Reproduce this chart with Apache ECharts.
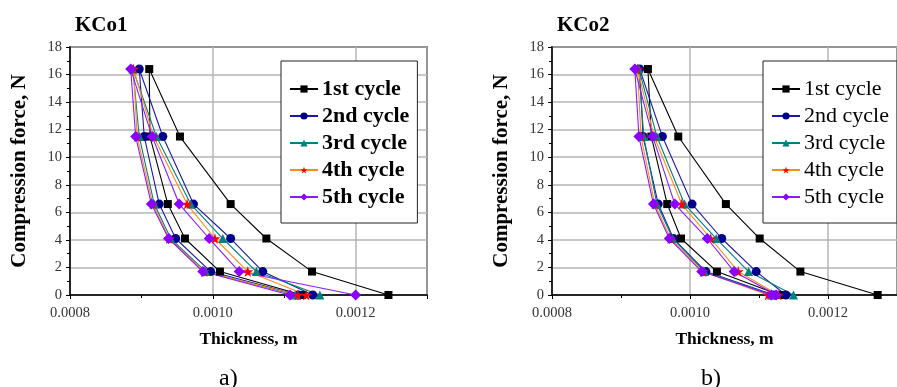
<!DOCTYPE html>
<html>
<head>
<meta charset="utf-8">
<script src="https://cdn.jsdelivr.net/npm/echarts@6/dist/echarts.min.js"></script>
<style>
  html, body { margin: 0; padding: 0; background: #fff; }
  #chart { width: 897px; height: 387px; }
</style>
</head>
<body>
<div id="chart"></div>
<script>
// force path of one loop: loading up to 16.4 N, then unloading back to 0
const forces = [0, 1.7, 4.1, 6.6, 11.5, 16.4, 11.5, 6.6, 4.1, 1.7, 0];
const cycleNames = ["1st cycle", "2nd cycle", "3rd cycle", "4th cycle", "5th cycle"];

// KCo1 thickness (m) along the loop
const kco1Cycle1 = [0.001246, 0.001139, 0.001075, 0.001025, 0.000954, 0.000911, 0.000912, 0.000937, 0.000961, 0.001010, 0.001125];
const kco1Cycle2 = [0.001140, 0.001070, 0.001025, 0.000973, 0.000930, 0.000897, 0.000904, 0.000925, 0.000948, 0.000997, 0.001120];
const kco1Cycle3 = [0.001150, 0.001061, 0.001014, 0.000969, 0.000921, 0.000888, 0.000897, 0.000918, 0.000941, 0.000990, 0.001115];
const kco1Cycle4 = [0.001131, 0.001049, 0.001003, 0.000964, 0.000917, 0.000889, 0.000894, 0.000916, 0.000939, 0.000988, 0.001119];
const kco1Cycle5 = [0.001200, 0.001037, 0.000995, 0.000953, 0.000915, 0.000885, 0.000892, 0.000914, 0.000938, 0.000986, 0.001108];

// KCo2 thickness (m) along the loop
const kco2Cycle1 = [0.001272, 0.001160, 0.001101, 0.001052, 0.000983, 0.000939, 0.000944, 0.000967, 0.000987, 0.001039, 0.001130];
const kco2Cycle2 = [0.001139, 0.001096, 0.001046, 0.001003, 0.000960, 0.000927, 0.000932, 0.000954, 0.000976, 0.001023, 0.001122];
const kco2Cycle3 = [0.001150, 0.001085, 0.001038, 0.000992, 0.000952, 0.000926, 0.000933, 0.000952, 0.000975, 0.001021, 0.001118];
const kco2Cycle4 = [0.001128, 0.001070, 0.001030, 0.000988, 0.000948, 0.000924, 0.000929, 0.000949, 0.000972, 0.001019, 0.001113];
const kco2Cycle5 = [0.001125, 0.001064, 0.001025, 0.000978, 0.000946, 0.000920, 0.000926, 0.000947, 0.000970, 0.001017, 0.001118];

const serif = "'Liberation Serif', 'Times New Roman', serif";
const gridGray = "#b4b4b4";
const star = "path://M50,0 L61,35 L98,35 L68,57 L79,91 L50,70 L21,91 L32,57 L2,35 L39,35 Z";

const cycleStyles = [
  { line: "#000000", mark: "#000000", symbol: "rect", size: 8 },
  { line: "#1a1aa6", mark: "#00008b", symbol: "circle", size: 9 },
  { line: "#008080", mark: "#008080", symbol: "triangle", size: 9 },
  { line: "#ff8c1a", mark: "#ff0000", symbol: star, size: 11 },
  { line: "#8a1aff", mark: "#8b00ff", symbol: "diamond", size: 11 }
];

const loops = (cycles, axis) => cycles.map((thick, i) => ({
  name: cycleNames[i],
  type: "line",
  xAxisIndex: axis,
  yAxisIndex: axis,
  data: thick.map((t, k) => [t, forces[k]]),
  symbol: cycleStyles[i].symbol,
  symbolSize: cycleStyles[i].size,
  lineStyle: { color: cycleStyles[i].line, width: 1.1 },
  itemStyle: { color: cycleStyles[i].mark },
  emphasis: { disabled: true },
  animation: false
}));

const xAxisFor = (grid) => ({
  gridIndex: grid,
  type: "value",
  min: 0.0008,
  max: 0.0013,
  interval: 0.0002,
  name: "Thickness, m",
  nameLocation: "middle",
  nameGap: 35,
  nameTextStyle: { fontFamily: serif, fontWeight: "bold", fontSize: 17.5, color: "#000" },
  axisLine: { onZero: false, lineStyle: { color: "#000", width: 1.5 } },
  axisTick: { length: 4, lineStyle: { color: "#000" } },
  minorTick: { show: true, splitNumber: 2, length: 3, lineStyle: { color: "#000" } },
  axisLabel: { showMaxLabel: false, margin: 11, fontFamily: serif, fontSize: 14.5, color: "#333", formatter: v => v.toFixed(4) },
  splitLine: { show: true, lineStyle: { color: gridGray, width: 1.5 } }
});

const yAxisFor = (grid) => ({
  gridIndex: grid,
  type: "value",
  min: 0,
  max: 18,
  interval: 2,
  name: "Compression force, N",
  nameLocation: "middle",
  nameGap: 40,
  nameTextStyle: { fontFamily: serif, fontWeight: "bold", fontSize: 21, color: "#000" },
  axisLine: { onZero: false, lineStyle: { color: "#000", width: 1.5 } },
  axisTick: { length: 4, lineStyle: { color: "#000" } },
  minorTick: { show: true, splitNumber: 2, length: 3, lineStyle: { color: "#000" } },
  axisLabel: { margin: 8, fontFamily: serif, fontSize: 14.5, color: "#333" },
  splitLine: { show: true, lineStyle: { color: gridGray, width: 1.5 } }
});

const legendFor = (left, bold) => ({
  orient: "vertical",
  left,
  top: 61,
  data: cycleNames,
  itemWidth: 28,
  itemHeight: 9,
  itemGap: 5,
  padding: [17, 8, 15, 8],
  backgroundColor: "#fff",
  borderColor: "#222",
  borderWidth: 1,
  selectedMode: false,
  textStyle: { fontFamily: serif, fontSize: 22, fontWeight: bold ? "bold" : "normal", color: "#000", padding: [0, 0, 0, -1] }
});

const titleText = (text, left, top, size, bold) => ({
  text, left, top,
  textStyle: { fontFamily: serif, fontSize: size, fontWeight: bold ? "bold" : "normal", color: "#000" }
});

const chart = echarts.init(document.getElementById("chart"), null, { renderer: "canvas" });
chart.setOption({
  animation: false,
  backgroundColor: "#fff",
  title: [
    titleText("KCo1", 70, 10, 21, true),
    titleText("KCo2", 552, 10, 21, true),
    titleText("a)", 214, 362, 24, false),
    titleText("b)", 696, 362, 24, false)
  ],
  grid: [
    { left: 70, top: 47, width: 357, height: 248, show: true, borderColor: "#000", borderWidth: 1.5 },
    { left: 552, top: 47, width: 357, height: 248, show: true, borderColor: "#000", borderWidth: 1.5 }
  ],
  xAxis: [xAxisFor(0), xAxisFor(1)],
  yAxis: [yAxisFor(0), yAxisFor(1)],
  legend: [legendFor(281, true), legendFor(763, false)],
  series: [
    ...loops([kco1Cycle1, kco1Cycle2, kco1Cycle3, kco1Cycle4, kco1Cycle5], 0),
    ...loops([kco2Cycle1, kco2Cycle2, kco2Cycle3, kco2Cycle4, kco2Cycle5], 1)
  ]
});
</script>
</body>
</html>
